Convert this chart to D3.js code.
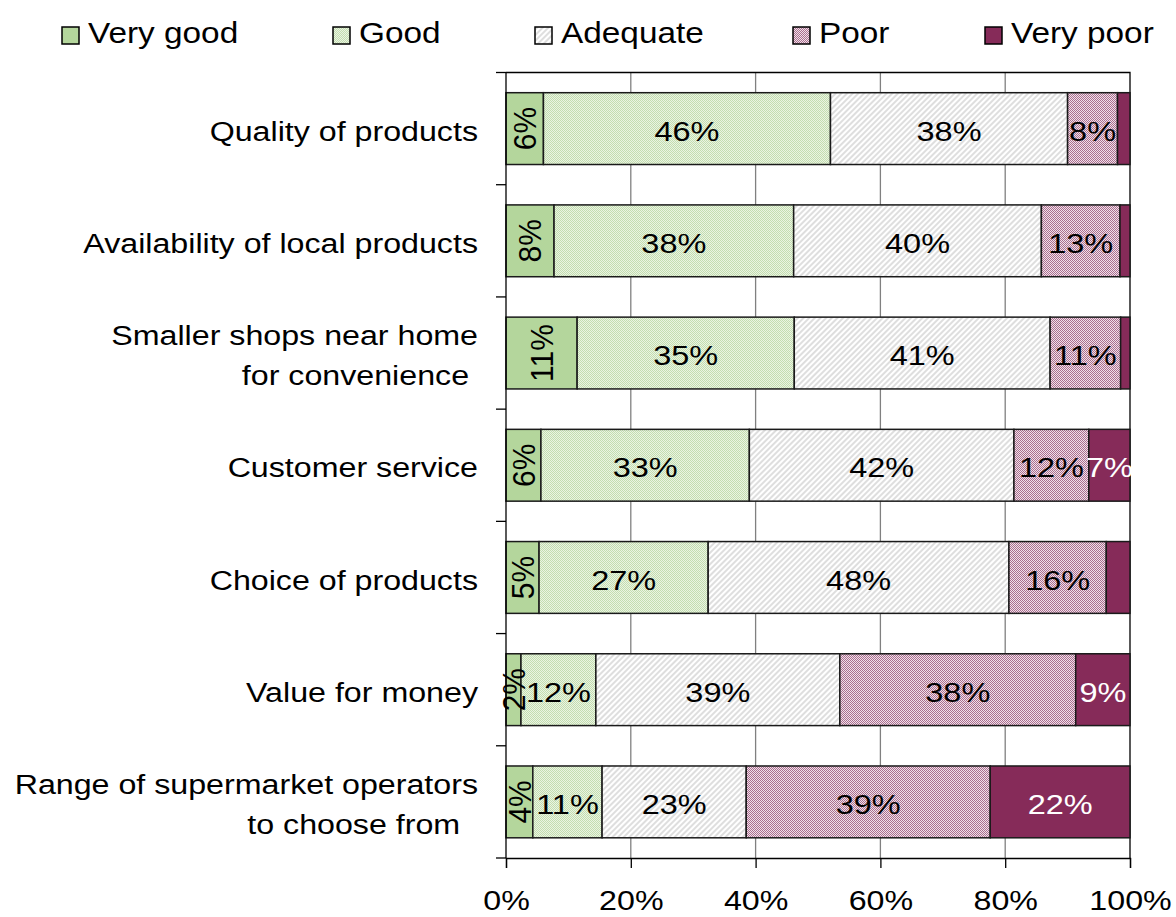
<!DOCTYPE html>
<html>
<head>
<meta charset="utf-8">
<script src="https://cdn.jsdelivr.net/npm/d3@7"></script>
<style>
  body { margin: 0; background: #fff; }
  text { font-family: "Liberation Sans", Arial, sans-serif; fill: #000; white-space: pre; }
</style>
</head>
<body>
<svg id="chart" width="1176" height="917"></svg>
<script>
// categories, top to bottom
const categories = [
    "Quality of products",
    "Availability of local products",
    "Smaller shops near home\nfor convenience ",
    "Customer service",
    "Choice of products",
    "Value for money",
    "Range of supermarket operators\nto choose from  "
];

// series values in percent, one per category
const veryGood = [6.0, 7.7, 11.4, 5.6, 5.3, 2.4, 4.3];
const good     = [46.0, 38.4, 34.8, 33.4, 27.1, 12.0, 11.1];
const adequate = [38.0, 39.7, 41.0, 42.4, 48.2, 39.1, 23.1];
const poor     = [8.0, 12.6, 11.3, 12.0, 15.6, 37.8, 39.1];
const veryPoor = [2.0, 1.6, 1.5, 6.6, 3.8, 8.7, 22.4];

const seriesNames = ["Very good", "Good", "Adequate", "Poor", "Very poor"];
const seriesValues = [veryGood, good, adequate, poor, veryPoor];

const xTicks = [0, 20, 40, 60, 80, 100];

// layout
const plot = {left: 506, right: 1130, top: 72.5, bottom: 858};
const stretch = 1.15; // the text in the original is a bit wide

const svg = d3.select("#chart");
const defs = svg.append("defs");

// fills for each series
const goodPat = defs.append("pattern").attr("id", "pGood")
    .attr("width", 2).attr("height", 2).attr("patternUnits", "userSpaceOnUse");
goodPat.append("rect").attr("width", 2).attr("height", 2).attr("fill", "#eaf4e2");
goodPat.append("rect").attr("width", 1).attr("height", 1).attr("fill", "#c3ddb0");
goodPat.append("rect").attr("x", 1).attr("y", 1).attr("width", 1).attr("height", 1).attr("fill", "#c3ddb0");

const adqPat = defs.append("pattern").attr("id", "pAdequate")
    .attr("width", 4).attr("height", 4).attr("patternUnits", "userSpaceOnUse")
    .attr("patternTransform", "rotate(45)");
adqPat.append("rect").attr("width", 4).attr("height", 4).attr("fill", "#ffffff");
adqPat.append("line").attr("x1", 1).attr("y1", 0).attr("x2", 1).attr("y2", 4)
    .attr("stroke", "#c8c8c8").attr("stroke-width", 1.2);

const poorPat = defs.append("pattern").attr("id", "pPoor")
    .attr("width", 2).attr("height", 2).attr("patternUnits", "userSpaceOnUse");
poorPat.append("rect").attr("width", 2).attr("height", 2).attr("fill", "#f0e0ea");
poorPat.append("rect").attr("width", 1).attr("height", 1).attr("fill", "#aa6f8e");
poorPat.append("rect").attr("x", 1).attr("y", 1).attr("width", 1).attr("height", 1).attr("fill", "#aa6f8e");

const fills = ["#b4d69c", "url(#pGood)", "url(#pAdequate)", "url(#pPoor)", "#862b59"];
const labelColors = ["#000", "#000", "#000", "#000", "#fff"];

// scales
const x = d3.scaleLinear().domain([0, 100]).range([plot.left, plot.right]);
const y = d3.scaleBand().domain(categories).range([plot.top, plot.bottom]).padding(0);
const barInset = y.bandwidth() * 0.18;

// stacked data
const rows = categories.map(function (c, i) {
    let row = {category: c};
    seriesNames.forEach(function (s, j) { row[s] = seriesValues[j][i]; });
    return row;
});
const stacked = d3.stack().keys(seriesNames)(rows);

// gridlines
svg.append("g").selectAll("line")
    .data(xTicks.slice(1, -1))
    .enter().append("line")
    .attr("x1", d => x(d)).attr("x2", d => x(d))
    .attr("y1", plot.top).attr("y2", plot.bottom)
    .attr("stroke", "#808080").attr("stroke-width", 1.3);

// plot border (top and right)
svg.append("path")
    .attr("d", `M${plot.left},${plot.top}H${plot.right}V${plot.bottom}`)
    .attr("fill", "none").attr("stroke", "#000").attr("stroke-width", 1.3);

// bars
const layers = svg.append("g").selectAll("g")
    .data(stacked)
    .enter().append("g")
    .attr("fill", (d, i) => fills[i]);

layers.selectAll("rect")
    .data(d => d)
    .enter().append("rect")
    .attr("x", d => x(d[0]))
    .attr("width", d => x(d[1]) - x(d[0]))
    .attr("y", d => y(d.data.category) + barInset)
    .attr("height", y.bandwidth() - 2 * barInset)
    .attr("stroke", "#1a1a1a").attr("stroke-width", 1.5);

// bar labels
const labelG = svg.append("g");
stacked.forEach(function (layer, i) {
    layer.forEach(function (d) {
        let v = d[1] - d[0];
        if (i === 4 && v < 5) return; // very poor only labelled when wide enough
        let cx = (x(d[0]) + x(d[1])) / 2;
        let cy = y(d.data.category) + y.bandwidth() / 2;
        let t = labelG.append("text")
            .attr("text-anchor", "middle")
            .attr("dy", "0.36em")
            .style("fill", labelColors[i])
            .text(Math.round(v) + "%");
        if (i === 0) {
            t.attr("font-size", 30)
                .attr("transform", `translate(${cx},${cy}) scale(1.05,1) rotate(-90)`);
        } else {
            t.attr("font-size", 28)
                .attr("transform", `translate(${cx},${cy + 2}) scale(1.16,1)`);
        }
    });
});

// left axis with ticks at the band boundaries
const bounds = categories.map(c => y(c)).concat([plot.bottom]);
const leftAxis = svg.append("g");
leftAxis.append("line")
    .attr("x1", plot.left).attr("x2", plot.left)
    .attr("y1", plot.top).attr("y2", plot.bottom)
    .attr("stroke", "#000").attr("stroke-width", 1.3);
leftAxis.selectAll(".tick")
    .data(bounds)
    .enter().append("line")
    .attr("x1", plot.left - 10).attr("x2", plot.left)
    .attr("y1", d => d).attr("y2", d => d)
    .attr("stroke", "#000").attr("stroke-width", 1.3);

// category labels
const catG = svg.append("g").attr("font-size", 28);
categories.forEach(function (c) {
    let lines = c.split("\n");
    let cy = y(c) + y.bandwidth() / 2;
    lines.forEach(function (ln, k) {
        let ly = cy + (k - (lines.length - 1) / 2) * 40;
        catG.append("text")
            .attr("text-anchor", "end")
            .attr("dy", "0.36em")
            .attr("transform", `translate(${plot.left - 28},${ly + 2}) scale(${stretch},1)`)
            .text(ln);
    });
});

// bottom axis
const xAxis = d3.axisBottom(x)
    .tickValues(xTicks)
    .tickSize(10)
    .tickFormat(d => d + "%");
const xg = svg.append("g")
    .attr("transform", `translate(0,${plot.bottom})`)
    .call(xAxis);
xg.select(".domain").attr("stroke", "#000").attr("stroke-width", 1.3);
xg.selectAll(".tick line").attr("stroke", "#000").attr("stroke-width", 1.3);
xg.selectAll(".tick text")
    .attr("font-size", 28)
    .attr("font-family", "Liberation Sans, Arial, sans-serif")
    .attr("y", 0).attr("dy", 0)
    .attr("transform", `translate(0,52) scale(${stretch},1)`);

// legend
const legendX = [62, 333, 535, 793, 985];
const legend = svg.append("g").selectAll("g")
    .data(seriesNames)
    .enter().append("g")
    .attr("transform", (d, i) => `translate(${legendX[i]},0)`);
legend.append("rect")
    .attr("x", 0).attr("y", 27)
    .attr("width", 17).attr("height", 17)
    .attr("fill", (d, i) => fills[i])
    .attr("stroke", "#000").attr("stroke-width", 1.5);
legend.append("text")
    .attr("font-size", 29)
    .attr("transform", `translate(26,43) scale(${stretch},1)`)
    .text(d => d);
</script>
</body>
</html>
